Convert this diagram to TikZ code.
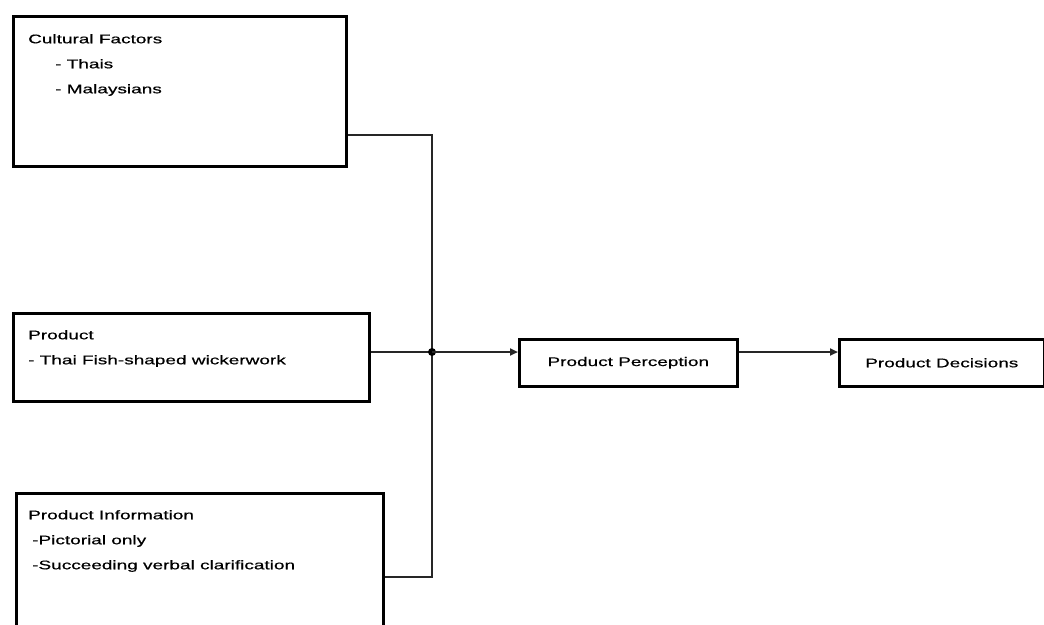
\documentclass[tikz,border=0pt]{standalone}
\usepackage{fontspec}
\setmainfont{Liberation Sans}[FakeStretch=1.52,FakeBold=0.6]
\usetikzlibrary{arrows.meta}
\begin{document}
\begin{tikzpicture}[x=1pt,y=-1pt,
  box/.style={draw=black,line width=2.6pt,rectangle,inner sep=0pt,anchor=north west},
  txt/.style={anchor=north west,inner sep=0pt,align=left,font=\fontsize{12.5}{25}\selectfont},
  ctxt/.style={inner sep=0pt,font=\fontsize{12.5}{25}\selectfont},
  conn/.style={line width=2.4pt,draw=black!85},
  arr/.style={conn,-{Triangle[length=8pt,width=7pt]}}]
\useasboundingbox (0,0) rectangle (1044,624);
\node[box,minimum width=333pt,minimum height=150pt] (cf) at (12,15) {};
\node[txt] (cft) at (28,34) {Cultural Factors\\\hspace*{27pt}- Thais\\\hspace*{27pt}- Malaysians};
\node[box,minimum width=356pt,minimum height=88pt] (pr) at (12,312) {};
\node[txt] (prt) at (28,330) {Product\\- Thai Fish-shaped wickerwork};
\node[box,minimum width=367pt,minimum height=145pt] (pi) at (15,492) {};
\node[txt] (pit) at (28,510) {Product Information\\\hspace*{4pt}-Pictorial only\\\hspace*{4pt}-Succeeding verbal clarification};
\node[box,minimum width=218pt,minimum height=47pt] (pp) at (518,338) {};
\node[ctxt] (ppt) at (pp.center) {Product Perception};
\node[box,minimum width=205pt,minimum height=47pt] (pd) at (838,338) {};
\node[ctxt] (pdt) at (pd.center) {Product Decisions};
\coordinate (j) at (432,352);
\coordinate (c1) at (432,135);
\coordinate (c3) at (432,577);
\draw[conn] (cf.east |- 0,135) -- (c1) -- (j);
\draw[conn] (pi.east |- 0,577) -- (c3) -- (j);
\draw[conn] (pr.east |- j) -- (j);
\fill (j) circle (4pt);
\draw[arr] (j) -- (pp.west |- j);
\draw[arr] (pp.east |- j) -- (pd.west |- j);
\end{tikzpicture}
\end{document}
